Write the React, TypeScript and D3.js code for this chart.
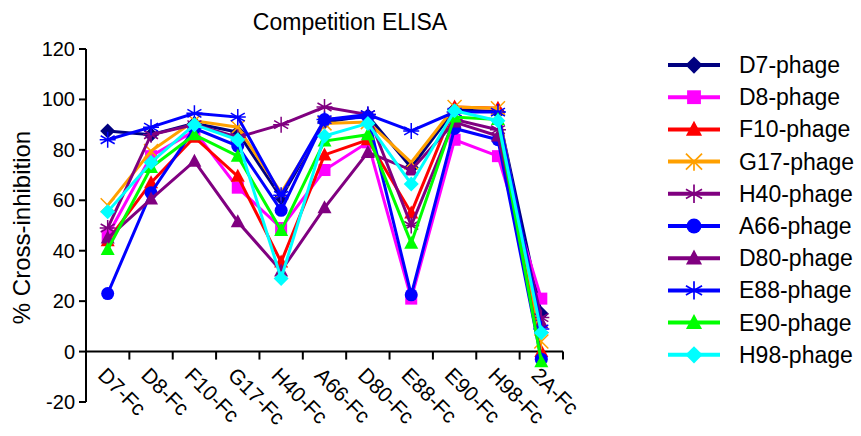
import React from "react";
import * as d3 from "d3";

const categories = ["D7-Fc", "D8-Fc", "F10-Fc", "G17-Fc", "H40-Fc", "A66-Fc", "D80-Fc", "E88-Fc", "E90-Fc", "H98-Fc", "2A-Fc"];
const seriesNames = ["D7-phage", "D8-phage", "F10-phage", "G17-phage", "H40-phage", "A66-phage", "D80-phage", "E88-phage", "E90-phage", "H98-phage"];

const d7 = [87.5, 86, 90.5, 87, 61, 91, 93.5, 73, 96, 95, 15];
const d8 = [46, 77.5, 87.5, 65, 49, 72, 83, 21, 84, 77.5, 21];
const f10 = [44, 67, 85, 69.5, 35.5, 78, 84, 55, 97, 96.5, 0];
const g17 = [58, 79.5, 91.5, 89, 63, 90.5, 91, 75, 97, 96.5, 4];
const h40 = [49, 86, 90, 85, 90, 97, 94, 50, 92, 88, 13.5];
const a66 = [23, 63, 88.5, 81.5, 56, 92, 93, 22.5, 88.5, 84, -3];
const d80 = [45, 60.5, 75.5, 51.5, 32, 57, 79, 72, 91, 85.5, 11.5];
const e88 = [84, 89, 94.5, 93, 62, 92, 94, 87.5, 95, 95, 9];
const e90 = [40.5, 73, 86, 77.5, 48, 83.5, 86, 43, 93, 92, -4];
const h98 = [55.5, 75, 90, 84, 29, 85.5, 90.5, 66.5, 95.5, 91.5, 7.5];

const seriesValues = [d7, d8, f10, g17, h40, a66, d80, e88, e90, h98];
const colors = ["#000080", "#ff00ff", "#ff0000", "#ffa000", "#800080", "#0000ff", "#800080", "#0000ff", "#00ff00", "#00ffff"];
const shapes = ["diamond", "square", "triangle", "x", "asterisk", "circle", "triangle", "asterisk", "triangle", "diamond"];
const yTicks = [-20, 0, 20, 40, 60, 80, 100, 120];

const FONT = "'Liberation Sans', Arial, Helvetica, sans-serif";

function Marker({ shape, color, x, y, s = 1 }: { shape: string; color: string; x: number; y: number; s?: number }) {
  const t = `translate(${x},${y}) scale(${s})`;
  if (shape === "diamond") return <path transform={t} d="M0,-7.5L7.5,0L0,7.5L-7.5,0Z" fill={color} />;
  if (shape === "square") return <rect transform={t} x={-6} y={-6} width={12} height={12} fill={color} />;
  if (shape === "triangle") return <path transform={t} d="M0,-7.5L7,5.5L-7,5.5Z" fill={color} />;
  if (shape === "circle") return <circle transform={t} r={6.5} fill={color} />;
  if (shape === "x")
    return <path transform={t} d="M-7,-7L7,7M7,-7L-7,7M0,0L0,8" stroke={color} strokeWidth={1.5} fill="none" />;
  return <path transform={t} d="M0,-8L0,8M-7,-4L7,4M7,-4L-7,4M-8,0L8,0" stroke={color} strokeWidth={1.5} fill="none" />;
}

export default function App() {
  const width = 861;
  const height = 436;
  const x0 = 86;
  const x1 = 563;
  const x = d3.scaleBand<string>().domain(categories).range([x0, x1]);
  const y = d3.scaleLinear().domain([-20, 120]).range([402, 49]);
  const cx = (c: string) => (x(c) as number) + x.bandwidth() / 2;
  const line = d3
    .line<number>()
    .x((_, i) => cx(categories[i]))
    .y((v) => y(v));

  const legendY = (i: number) => 65 + i * 32.2;

  return (
    <svg width={width} height={height} style={{ position: "absolute", left: 0, top: 0, background: "#fff" }} fontFamily={FONT}>
      <text x={350} y={30} textAnchor="middle" fontSize={23}>Competition ELISA</text>

      {/* y axis */}
      <line x1={x0} x2={x0} y1={y(120)} y2={y(-20)} stroke="#000" strokeWidth={2} />
      {yTicks.map((t) => (
        <g key={t}>
          <line x1={x0 - 7} x2={x0} y1={y(t)} y2={y(t)} stroke="#000" strokeWidth={2} />
          <text x={x0 - 11} y={y(t)} dy="0.35em" textAnchor="end" fontSize={20}>{t}</text>
        </g>
      ))}
      <text transform={`translate(30,${(y(120) + y(-20)) / 2 + 2}) rotate(-90)`} textAnchor="middle" fontSize={24}>% Cross-inhibition</text>

      {/* x axis */}
      <line x1={x0} x2={x1} y1={y(0)} y2={y(0)} stroke="#000" strokeWidth={2} />
      {categories.map((c) => (
        <line key={c} x1={(x(c) as number) + x.bandwidth()} x2={(x(c) as number) + x.bandwidth()} y1={y(0)} y2={y(0) + 8} stroke="#000" strokeWidth={2} />
      ))}
      {categories.map((c) => (
        <text key={c} transform={`translate(${cx(c) - 11},${y(0) + 25}) rotate(45)`} fontSize={21}>{c}</text>
      ))}

      {/* series */}
      {seriesValues.map((vals, si) => (
        <g key={si}>
          <path d={line(vals) || ""} fill="none" stroke={colors[si]} strokeWidth={3} />
          {vals.map((v, i) => (
            <Marker key={i} shape={shapes[si]} color={colors[si]} x={cx(categories[i])} y={y(v)} />
          ))}
        </g>
      ))}

      {/* legend */}
      {seriesNames.map((n, i) => (
        <g key={n}>
          <line x1={668} x2={720} y1={legendY(i)} y2={legendY(i)} stroke={colors[i]} strokeWidth={4} />
          <Marker shape={shapes[i]} color={colors[i]} x={694} y={legendY(i)} s={1.15} />
          <text x={739} y={legendY(i)} dy="0.35em" fontSize={23}>{n}</text>
        </g>
      ))}
    </svg>
  );
}
